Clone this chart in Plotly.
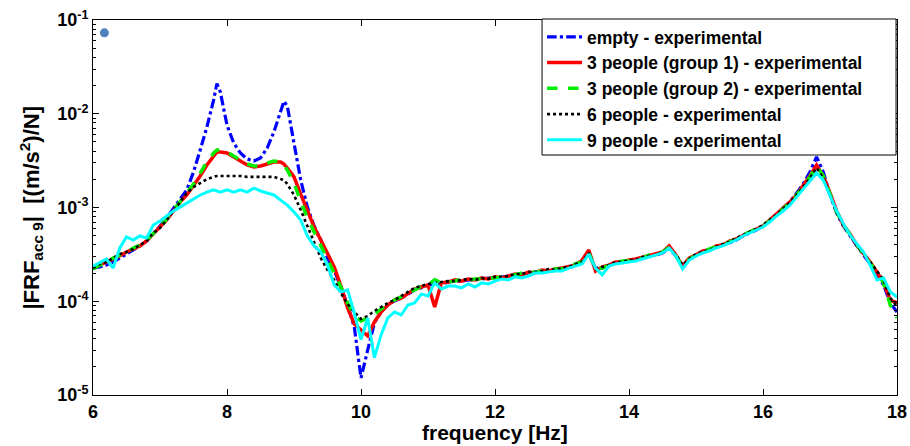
import plotly.graph_objects as go

# ---------------- data ----------------
freq = [6.0, 6.1, 6.2, 6.3, 6.4, 6.5, 6.6, 6.7, 6.8, 6.9, 7.0, 7.1, 7.2, 7.3, 7.4,
        7.5, 7.6, 7.7, 7.8, 7.85, 7.9, 8.0, 8.1, 8.2, 8.3, 8.4, 8.5, 8.6, 8.7, 8.8, 8.85, 8.9,
        9.0, 9.1, 9.2, 9.3, 9.4, 9.5, 9.6, 9.7, 9.8, 9.9, 10.0, 10.1, 10.2, 10.3, 10.4, 10.5,
        10.6, 10.7, 10.8, 10.9, 11.0, 11.1, 11.2, 11.3, 11.4, 11.5,
        11.6, 11.7, 11.8, 11.9, 12.0, 12.1, 12.2, 12.3, 12.4, 12.5,
        12.6, 12.7, 12.8, 12.9, 13.0, 13.1, 13.2, 13.3, 13.4, 13.5,
        13.6, 13.7, 13.8, 13.9, 14.0, 14.1, 14.2, 14.3, 14.4, 14.5,
        14.6, 14.7, 14.8, 14.9, 15.0, 15.1, 15.2, 15.3, 15.4, 15.5,
        15.6, 15.7, 15.8, 15.9, 16.0, 16.1, 16.2, 16.3, 16.4, 16.5,
        16.6, 16.7, 16.8, 16.9, 17.0, 17.1, 17.2, 17.3, 17.4, 17.5,
        17.6, 17.7, 17.8, 17.9, 18.0]

frf_empty = [2.26e-4, 2.32e-4, 2.43e-4, 2.62e-4, 2.89e-4, 3.19e-4, 3.52e-4, 3.89e-4, 4.39e-4, 5.22e-4,
             6.35e-4, 7.73e-4, 9.88e-4, 1.23e-3, 1.54e-3,
             2.39e-3, 4.10e-3, 7.22e-3, 1.40e-2, 2.10e-2, 1.71e-2, 7.58e-3, 4.88e-3, 3.81e-3, 3.29e-3,
             3.13e-3, 3.37e-3, 4.31e-3, 6.39e-3, 1.04e-2, 1.36e-2, 1.21e-2, 5.00e-3, 1.96e-3, 1.01e-3,
             6.35e-4, 4.50e-4, 2.89e-4, 2.15e-4, 1.39e-4, 9.12e-5, 5.31e-5, 1.52e-5, 3.02e-5, 5.86e-5,
             7.68e-5, 9.12e-5, 1.01e-4,
             1.08e-4, 1.19e-4, 1.32e-4, 1.39e-4, 1.49e-4, 1.53e-4, 1.53e-4, 1.60e-4, 1.64e-4, 1.64e-4,
             1.69e-4, 1.69e-4, 1.73e-4, 1.77e-4, 1.77e-4, 1.82e-4, 1.86e-4, 1.86e-4, 1.95e-4, 2.00e-4,
             2.05e-4, 2.10e-4, 2.10e-4, 2.15e-4, 2.21e-4, 2.26e-4, 2.43e-4, 2.56e-4, 3.19e-4, 2.26e-4,
             2.26e-4, 2.37e-4, 2.56e-4, 2.62e-4, 2.69e-4, 2.82e-4, 2.89e-4, 3.04e-4, 3.11e-4, 3.27e-4,
             3.70e-4, 3.04e-4, 2.37e-4, 2.82e-4, 3.11e-4, 3.35e-4, 3.52e-4, 3.79e-4, 3.98e-4, 4.18e-4,
             4.50e-4, 4.97e-4, 5.35e-4, 5.76e-4, 6.35e-4, 7.18e-4, 8.32e-4, 9.88e-4, 1.14e-3, 1.43e-3,
             1.78e-3, 2.39e-3, 3.46e-3, 2.39e-3, 1.36e-3, 8.73e-4, 6.35e-4, 4.97e-4, 3.89e-4, 3.11e-4,
             2.50e-4, 1.95e-4, 1.49e-4, 9.58e-5, 7.68e-5]

frf_3p_g1 = [2.32e-4, 2.43e-4, 2.62e-4, 2.82e-4, 3.04e-4, 3.35e-4, 3.61e-4, 3.89e-4, 4.39e-4, 5.22e-4,
             6.04e-4, 7.36e-4, 9.18e-4, 1.14e-3, 1.36e-3,
             1.69e-3, 2.17e-3, 2.84e-3, 3.54e-3, 3.91e-3, 3.91e-3, 3.81e-3, 3.46e-3, 3.13e-3, 2.84e-3,
             2.70e-3, 2.77e-3, 2.91e-3, 3.06e-3, 3.06e-3, 2.91e-3, 2.64e-3, 2.12e-3, 1.39e-3, 9.18e-4,
             6.19e-4, 4.50e-4, 3.27e-4, 2.32e-4, 1.45e-4, 8.47e-5, 5.72e-5, 4.94e-5, 4.26e-5, 6.01e-5,
             7.68e-5, 9.12e-5, 1.03e-4,
             1.08e-4, 1.22e-4, 1.35e-4, 1.42e-4, 1.49e-4, 8.68e-5, 1.57e-4, 1.60e-4, 1.69e-4, 1.64e-4,
             1.73e-4, 1.69e-4, 1.77e-4, 1.73e-4, 1.82e-4, 1.77e-4, 1.86e-4, 1.95e-4, 1.91e-4, 2.05e-4,
             2.00e-4, 2.15e-4, 2.10e-4, 2.21e-4, 2.26e-4, 2.37e-4, 2.43e-4, 2.75e-4, 3.52e-4, 2.10e-4,
             2.32e-4, 2.43e-4, 2.62e-4, 2.62e-4, 2.75e-4, 2.82e-4, 2.96e-4, 3.04e-4, 3.19e-4, 3.35e-4,
             3.89e-4, 3.11e-4, 2.37e-4, 2.89e-4, 3.11e-4, 3.44e-4, 3.52e-4, 3.89e-4, 3.98e-4, 4.39e-4,
             4.61e-4, 5.09e-4, 5.48e-4, 5.90e-4, 6.35e-4, 7.36e-4, 8.52e-4, 9.64e-4, 1.14e-3, 1.36e-3,
             1.69e-3, 2.17e-3, 2.84e-3, 2.17e-3, 1.43e-3, 9.18e-4, 6.51e-4, 5.22e-4, 3.98e-4, 3.27e-4,
             2.62e-4, 2.05e-4, 1.57e-4, 1.03e-4, 9.58e-5]

frf_3p_g2 = [2.21e-4, 2.43e-4, 2.56e-4, 2.89e-4, 3.11e-4, 3.27e-4, 3.70e-4, 3.98e-4, 4.50e-4, 5.22e-4,
             6.19e-4, 7.54e-4, 9.40e-4, 1.17e-3, 1.43e-3,
             1.78e-3, 2.33e-3, 3.06e-3, 3.81e-3, 4.10e-3, 4.10e-3, 3.91e-3, 3.54e-3, 3.21e-3, 2.91e-3,
             2.77e-3, 2.77e-3, 2.98e-3, 3.13e-3, 3.06e-3, 2.84e-3, 2.51e-3, 1.82e-3, 1.17e-3, 7.73e-4,
             5.48e-4, 3.89e-4, 2.75e-4, 2.05e-4, 1.42e-4, 9.58e-5, 6.96e-5, 6.16e-5, 6.63e-5, 7.31e-5,
             8.27e-5, 9.35e-5, 1.03e-4,
             1.11e-4, 1.22e-4, 1.32e-4, 1.45e-4, 1.49e-4, 1.69e-4, 1.57e-4, 1.60e-4, 1.64e-4, 1.73e-4,
             1.69e-4, 1.73e-4, 1.73e-4, 1.77e-4, 1.77e-4, 1.82e-4, 1.91e-4, 1.91e-4, 2.00e-4, 2.00e-4,
             2.05e-4, 2.10e-4, 2.15e-4, 2.21e-4, 2.21e-4, 2.32e-4, 2.50e-4, 2.62e-4, 3.27e-4, 2.21e-4,
             2.26e-4, 2.43e-4, 2.56e-4, 2.69e-4, 2.69e-4, 2.82e-4, 2.89e-4, 3.11e-4, 3.11e-4, 3.35e-4,
             3.79e-4, 3.04e-4, 2.37e-4, 2.82e-4, 3.11e-4, 3.35e-4, 3.61e-4, 3.79e-4, 3.98e-4, 4.29e-4,
             4.61e-4, 5.09e-4, 5.48e-4, 5.90e-4, 6.35e-4, 7.18e-4, 8.32e-4, 9.64e-4, 1.12e-3, 1.36e-3,
             1.65e-3, 2.12e-3, 2.77e-3, 2.17e-3, 1.36e-3, 8.95e-4, 6.51e-4, 5.09e-4, 3.98e-4, 3.19e-4,
             2.56e-4, 2.00e-4, 1.57e-4, 9.12e-5, 6.63e-5]

frf_6p = [2.26e-4, 2.50e-4, 2.62e-4, 2.89e-4, 3.19e-4, 3.35e-4, 3.61e-4, 3.98e-4, 4.39e-4, 5.35e-4,
          6.04e-4, 7.36e-4, 9.18e-4, 1.12e-3, 1.43e-3,
          1.65e-3, 1.82e-3, 2.01e-3, 2.12e-3, 2.17e-3, 2.17e-3, 2.17e-3, 2.17e-3, 2.17e-3, 2.12e-3,
          2.12e-3, 2.12e-3, 2.12e-3, 2.12e-3, 2.01e-3, 1.96e-3, 1.78e-3, 1.36e-3, 9.40e-4, 6.35e-4,
          4.18e-4, 2.89e-4, 2.15e-4, 1.69e-4, 1.22e-4, 9.35e-5, 7.68e-5, 6.47e-5, 6.96e-5, 7.87e-5,
          8.68e-5, 9.58e-5, 1.03e-4,
          1.14e-4, 1.26e-4, 1.39e-4, 1.45e-4, 1.53e-4, 1.57e-4, 1.60e-4, 1.64e-4, 1.64e-4, 1.69e-4,
          1.73e-4, 1.69e-4, 1.77e-4, 1.73e-4, 1.82e-4, 1.82e-4, 1.86e-4, 1.95e-4, 1.95e-4, 2.05e-4,
          2.05e-4, 2.10e-4, 2.21e-4, 2.15e-4, 2.26e-4, 2.32e-4, 2.50e-4, 2.62e-4, 3.27e-4, 2.21e-4,
          2.32e-4, 2.43e-4, 2.62e-4, 2.62e-4, 2.75e-4, 2.75e-4, 2.96e-4, 3.04e-4, 3.11e-4, 3.35e-4,
          3.70e-4, 3.11e-4, 2.43e-4, 2.82e-4, 3.19e-4, 3.35e-4, 3.52e-4, 3.79e-4, 4.08e-4, 4.29e-4,
          4.73e-4, 5.09e-4, 5.48e-4, 5.90e-4, 6.51e-4, 7.36e-4, 8.32e-4, 9.64e-4, 1.12e-3, 1.36e-3,
          1.65e-3, 2.06e-3, 2.64e-3, 2.06e-3, 1.33e-3, 8.95e-4, 6.35e-4, 5.09e-4, 3.89e-4, 3.27e-4,
          2.62e-4, 2.10e-4, 1.69e-4, 1.08e-4, 8.90e-5]

frf_9p = [2.37e-4, 2.56e-4, 2.82e-4, 2.26e-4, 3.70e-4, 4.85e-4, 4.50e-4, 4.97e-4, 4.73e-4, 6.51e-4,
          7.18e-4, 8.12e-4, 9.18e-4, 1.01e-3, 1.12e-3,
          1.23e-3, 1.36e-3, 1.46e-3, 1.54e-3, 1.50e-3, 1.46e-3, 1.54e-3, 1.46e-3, 1.54e-3, 1.46e-3,
          1.61e-3, 1.50e-3, 1.43e-3, 1.36e-3, 1.20e-3, 1.12e-3, 1.06e-3, 8.95e-4, 7.36e-4, 4.97e-4,
          3.89e-4, 3.35e-4, 2.43e-4, 1.49e-4, 1.26e-4, 1.32e-4, 7.50e-5, 3.90e-5, 6.63e-5, 2.50e-5,
          4.37e-5, 6.63e-5, 7.68e-5,
          7.14e-5, 9.12e-5, 9.58e-5, 1.19e-4, 1.14e-4, 1.57e-4, 1.35e-4, 1.45e-4, 1.45e-4, 1.39e-4,
          1.53e-4, 1.42e-4, 1.57e-4, 1.53e-4, 1.64e-4, 1.73e-4, 1.69e-4, 1.82e-4, 1.77e-4, 1.86e-4,
          2.00e-4, 2.00e-4, 2.05e-4, 2.10e-4, 2.10e-4, 2.26e-4, 2.37e-4, 2.50e-4, 3.19e-4, 2.26e-4,
          1.91e-4, 2.37e-4, 2.50e-4, 2.56e-4, 2.62e-4, 2.69e-4, 2.82e-4, 2.96e-4, 3.11e-4, 3.27e-4,
          3.70e-4, 3.04e-4, 2.21e-4, 2.75e-4, 3.04e-4, 3.27e-4, 3.44e-4, 3.70e-4, 3.89e-4, 4.18e-4,
          4.50e-4, 4.97e-4, 5.35e-4, 5.76e-4, 6.19e-4, 7.00e-4, 8.12e-4, 9.18e-4, 1.06e-3, 1.29e-3,
          1.57e-3, 1.96e-3, 2.33e-3, 1.96e-3, 1.33e-3, 9.18e-4, 6.67e-4, 5.09e-4, 4.08e-4, 3.35e-4,
          2.43e-4, 1.69e-4, 1.77e-4, 1.26e-4, 1.11e-4]

# stray marker seen in the top-left corner of the reference
dot_freq = [6.17]
dot_value = [7.3e-2]

series_names = ["empty - experimental",
                "3 people (group 1) - experimental",
                "3 people (group 2) - experimental",
                "6 people - experimental",
                "9 people - experimental"]

x_ticks = [6, 8, 10, 12, 14, 16, 18]
y_ticks = [1e-5, 1e-4, 1e-3, 1e-2, 1e-1]
y_ticktext = ["10<sup>-5</sup>", "10<sup>-4</sup>", "10<sup>-3</sup>", "10<sup>-2</sup>", "10<sup>-1</sup>"]
y_minor = [m * 10.0 ** e for e in range(-5, -1) for m in range(2, 10)]

# ---------------- figure ----------------
FONT = "Liberation Sans, Arial, Helvetica, sans-serif"

styles = [
    dict(color="#0000FF", width=3.2, dash="dashdot"),
    dict(color="#FF0000", width=3.5, dash="solid"),
    dict(color="#00EE00", width=3.5, dash="dash"),
    dict(color="#000000", width=2.6, dash="dot"),
    dict(color="#00FFFF", width=3.0, dash="solid"),
]
data = [frf_empty, frf_3p_g1, frf_3p_g2, frf_6p, frf_9p]

fig = go.Figure()
for name, ys, st in zip(series_names, data, styles):
    fig.add_trace(go.Scatter(x=freq, y=ys, mode="lines", name=name, line=st))

fig.add_trace(go.Scatter(x=dot_freq, y=dot_value, mode="markers", showlegend=False,
                         marker=dict(color="#4F81BD", size=9)))

axis_common = dict(showline=True, linecolor="black", linewidth=1, mirror="ticks",
                   ticks="inside", ticklen=6, tickcolor="black", showgrid=False,
                   zeroline=False, automargin=False,
                   tickfont=dict(family=FONT, size=18, color="black", weight="bold"))

fig.update_xaxes(range=[6, 18], tickmode="array", tickvals=x_ticks,
                 ticktext=[str(v) for v in x_ticks], **axis_common)
fig.update_yaxes(type="log", range=[-5, -1], tickmode="array", tickvals=y_ticks,
                 ticktext=y_ticktext,
                 minor=dict(ticks="inside", ticklen=3, tickcolor="black",
                            tickmode="array", tickvals=y_minor, showgrid=False),
                 **axis_common)

# legend frame (box drawn as a layout shape so it can span the reference's width)
LEG_X0, LEG_X1, LEG_Y0, LEG_Y1 = 0.5585, 0.9988, 0.640, 1.0027

fig.update_layout(
    width=910, height=446,
    margin=dict(l=93, r=13, t=20, b=51),
    paper_bgcolor="white", plot_bgcolor="white",
    font=dict(family=FONT, color="black"),
    shapes=[dict(type="rect", xref="paper", yref="paper",
                 x0=LEG_X0, x1=LEG_X1, y0=LEG_Y0, y1=LEG_Y1,
                 line=dict(color="black", width=1), fillcolor="white", layer="above")],
    legend=dict(x=LEG_X0, y=LEG_Y1, xanchor="left", yanchor="top",
                bgcolor="rgba(0,0,0,0)", borderwidth=0,
                font=dict(family=FONT, size=17.5, color="black", weight="bold"),
                itemwidth=35, tracegroupgap=0),
    annotations=[
        dict(text="frequency [Hz]", xref="paper", yref="paper", x=0.5, y=-0.099,
             xanchor="center", yanchor="middle", showarrow=False,
             font=dict(family=FONT, size=21, color="black", weight="bold")),
        dict(text="|FRF<sub>acc 9</sub>|  [(m/s<sup>2</sup>)/N]", xref="paper", yref="paper",
             x=-0.077, y=0.5, xanchor="center", yanchor="middle", textangle=-90,
             showarrow=False,
             font=dict(family=FONT, size=22, color="black", weight="bold")),
    ],
)

fig.write_html("out.html")
